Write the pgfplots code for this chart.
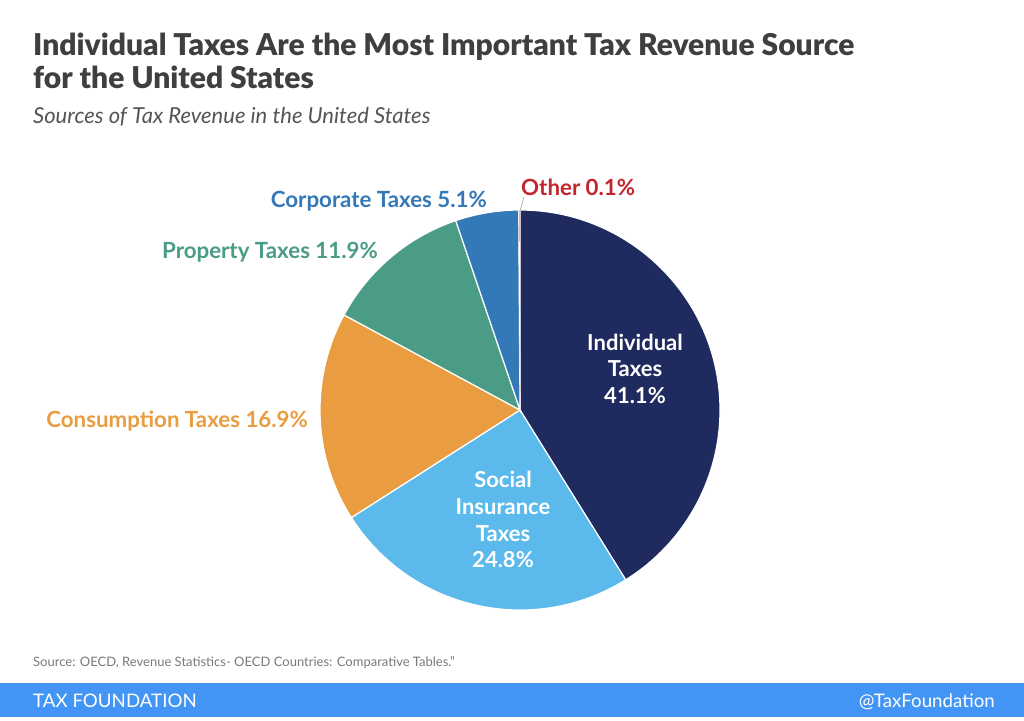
\documentclass[border=0pt]{standalone}
\usepackage{pgfplots}
\pgfplotsset{compat=1.18}
\usepackage{pgfplotstable}
\usepackage{fontspec}
\setmainfont{Lato}
\newfontfamily\titlefont{Lato Black}

\definecolor{cIndiv}{HTML}{1F2B5E}
\definecolor{cSocial}{HTML}{5BBAEB}
\definecolor{cCons}{HTML}{E99D40}
\definecolor{cProp}{HTML}{4A9C86}
\definecolor{cCorp}{HTML}{3479B7}
\definecolor{cOther}{HTML}{C1272D}
\definecolor{ctitle}{HTML}{3F3F3F}
\definecolor{csub}{HTML}{555555}
\definecolor{csrc}{HTML}{7A7A7A}
\definecolor{cbar}{HTML}{4395F5}

\pgfplotstableread{
name value
Individual 41.1
Social 24.8
Consumption 16.9
Property 11.9
Corporate 5.1
Other 0.1
}\shares

\begin{document}
\begin{tikzpicture}[x=1pt,y=1pt]
\pgfplotstablegetelem{0}{value}\of\shares \let\vA\pgfplotsretval
\pgfplotstablegetelem{1}{value}\of\shares \let\vB\pgfplotsretval
\pgfplotstablegetelem{2}{value}\of\shares \let\vC\pgfplotsretval
\pgfplotstablegetelem{3}{value}\of\shares \let\vD\pgfplotsretval
\pgfplotstablegetelem{4}{value}\of\shares \let\vE\pgfplotsretval
\pgfplotstablegetelem{5}{value}\of\shares \let\vF\pgfplotsretval
\pgfmathsetmacro{\tot}{\vA+\vB+\vC+\vD+\vE+\vF}
\pgfmathsetmacro{\aA}{90}
\pgfmathsetmacro{\aB}{\aA-360*\vA/\tot}
\pgfmathsetmacro{\aC}{\aB-360*\vB/\tot}
\pgfmathsetmacro{\aD}{\aC-360*\vC/\tot}
\pgfmathsetmacro{\aE}{\aD-360*\vD/\tot}
\pgfmathsetmacro{\aF}{\aE-360*\vE/\tot}
\pgfmathsetmacro{\aG}{\aF-360*\vF/\tot}

% canvas
\fill[white] (0,0) rectangle (1024,-720);

% title
\node[anchor=base west, inner sep=0, text=ctitle, font=\fontsize{30}{33}\selectfont\titlefont] at (33,-55) {Individual Taxes Are the Most Important Tax Revenue Source};
\node[anchor=base west, inner sep=0, text=ctitle, font=\fontsize{30}{33}\selectfont\titlefont] at (33,-88) {for the United States};
\node[anchor=base west, inner sep=0, text=csub, font=\fontsize{22}{25}\selectfont\itshape] at (33,-123) {Sources of Tax Revenue in the United States};

\begin{axis}[
  at={(520,-410)}, anchor=origin,
  x=1pt, y=1pt,
  xmin=-205, xmax=205, ymin=-205, ymax=205,
  hide axis, clip=false,
]
\fill[cIndiv, draw=white, line width=1.2pt] (axis cs:0,0) -- (axis cs:{200*cos(\aA)},{200*sin(\aA)}) arc[start angle=\aA, end angle=\aB, radius=200pt] -- cycle;
\fill[cSocial, draw=white, line width=1.2pt] (axis cs:0,0) -- (axis cs:{200*cos(\aB)},{200*sin(\aB)}) arc[start angle=\aB, end angle=\aC, radius=200pt] -- cycle;
\fill[cCons, draw=white, line width=1.2pt] (axis cs:0,0) -- (axis cs:{200*cos(\aC)},{200*sin(\aC)}) arc[start angle=\aC, end angle=\aD, radius=200pt] -- cycle;
\fill[cProp, draw=white, line width=1.2pt] (axis cs:0,0) -- (axis cs:{200*cos(\aD)},{200*sin(\aD)}) arc[start angle=\aD, end angle=\aE, radius=200pt] -- cycle;
\fill[cCorp, draw=white, line width=1.2pt] (axis cs:0,0) -- (axis cs:{200*cos(\aE)},{200*sin(\aE)}) arc[start angle=\aE, end angle=\aF, radius=200pt] -- cycle;
\fill[cOther, draw=white, line width=0.6pt] (axis cs:0,0) -- (axis cs:{200*cos(\aF)},{200*sin(\aF)}) arc[start angle=\aF, end angle=\aG, radius=200pt] -- cycle;
\end{axis}

% leader for Other
\draw[gray!70, line width=0.6pt] (520,-211) -- (524,-197);

% outside labels
\begin{scope}[every node/.style={inner sep=0, font=\fontsize{22.3}{26}\selectfont\bfseries}]
\node[anchor=base east, text=cCorp] at (487,-207) {Corporate Taxes 5.1\%};
\node[anchor=base west, text=cOther] at (521,-195) {Other 0.1\%};
\node[anchor=base east, text=cProp] at (378,-258) {Property Taxes 11.9\%};
\node[anchor=base east, text=cCons] at (308,-427) {Consumption Taxes 16.9\%};
\end{scope}

% inside labels
\begin{scope}[every node/.style={anchor=base, inner sep=0, text=white, font=\fontsize{22}{26}\selectfont\bfseries}]
\node at (635,-350) {Individual};
\node at (635,-376) {Taxes};
\node at (635,-403) {41.1\%};
\node at (503,-487) {Social};
\node at (503,-514) {Insurance};
\node at (503,-541) {Taxes};
\node at (503,-567) {24.8\%};
\end{scope}

% source
\node[anchor=base west, inner sep=0, text=csrc, font=\fontsize{13}{15}\selectfont] at (33,-666) {Source: OECD, Revenue Statistics- OECD Countries: Comparative Tables."};

% footer
\fill[cbar] (0,-683) rectangle (1024,-717);
\node[anchor=base west, inner sep=0, text=white, font=\fontsize{18.7}{22}\selectfont] at (33,-707) {TAX FOUNDATION};
\node[anchor=base east, inner sep=0, text=white, font=\fontsize{18.7}{22}\selectfont] at (995,-707) {@TaxFoundation};
\end{tikzpicture}
\end{document}
